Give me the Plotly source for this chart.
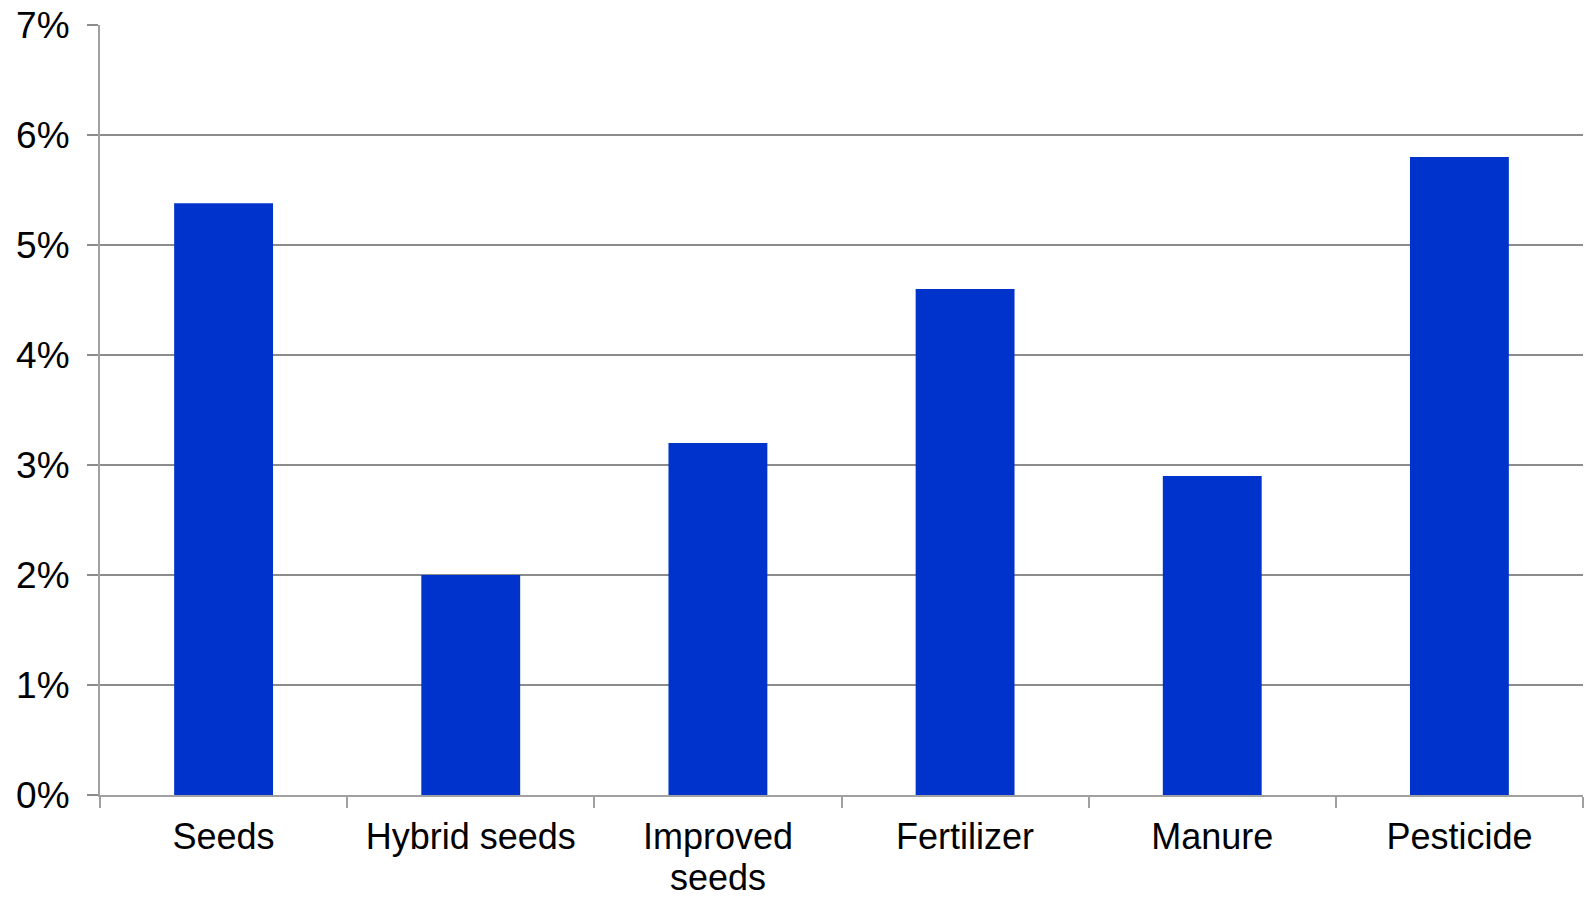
import plotly.graph_objects as go

categories = ["Seeds", "Hybrid seeds", "Improved seeds", "Fertilizer", "Manure", "Pesticide"]
# first line of each axis label; "Improved seeds" wraps onto a second line
tick_labels = ["Seeds", "Hybrid seeds", "Improved", "Fertilizer", "Manure", "Pesticide"]
wrapped_lines = {"Improved seeds": "seeds"}
shares = [5.38, 2.0, 3.2, 4.6, 2.9, 5.8]
y_ticks = [0, 1, 2, 3, 4, 5, 6, 7]

fig = go.Figure(
    go.Bar(
        x=categories,
        y=shares,
        marker=dict(color="#0033CC", line=dict(width=0)),
        hoverinfo="x+y",
    )
)

font_family = "Liberation Sans, Arial, sans-serif"
label_size = 36

# second line of wrapped category labels, set tighter than Plotly's default line height
for cat, line in wrapped_lines.items():
    fig.add_annotation(
        x=cat,
        xref="x",
        y=0,
        yref="paper",
        yanchor="top",
        yshift=-61,
        text=line,
        showarrow=False,
        borderpad=0,
        font=dict(family=font_family, size=label_size, color="black"),
    )

fig.update_layout(
    width=1587,
    height=897,
    margin=dict(l=100, r=4, t=25, b=102),
    paper_bgcolor="white",
    plot_bgcolor="white",
    bargap=0.6,
    showlegend=False,
    font=dict(family=font_family, size=37, color="black"),
)

fig.update_yaxes(
    range=[0, 7],
    tickvals=y_ticks,
    ticktext=[f"{v}%" for v in y_ticks],
    showgrid=True,
    gridcolor="#8c8c8c",
    gridwidth=2,
    zeroline=False,
    showline=True,
    linecolor="#a0a0a0",
    linewidth=2,
    ticks="outside",
    ticklen=11,
    tickwidth=2,
    tickcolor="#8c8c8c",
    ticklabelstandoff=10,
    tickfont=dict(size=37),
    automargin=False,
)

fig.update_xaxes(
    type="category",
    tickvals=categories,
    ticktext=tick_labels,
    showline=True,
    linecolor="#a0a0a0",
    linewidth=2,
    ticks="outside",
    tickson="boundaries",
    ticklen=11,
    tickwidth=2,
    tickcolor="#a0a0a0",
    showgrid=False,
    ticklabelstandoff=9,
    tickfont=dict(size=label_size),
    automargin=False,
)

fig.write_html("out.html")
